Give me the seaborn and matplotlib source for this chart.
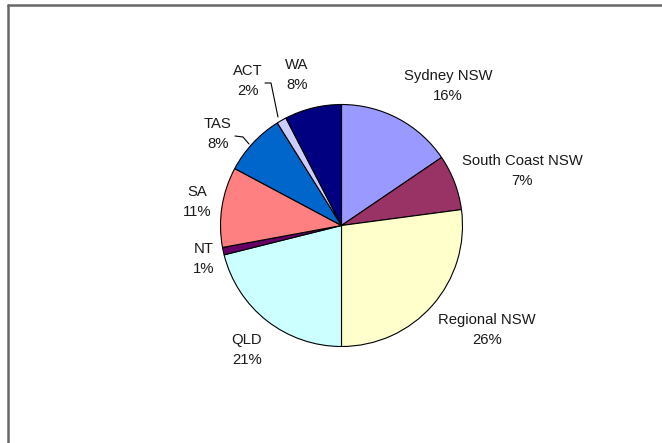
import matplotlib
matplotlib.use("Agg")
import matplotlib.pyplot as plt
from matplotlib.lines import Line2D
import seaborn as sns

# %% DATA (clockwise from 12 o'clock)

regions = ['Sydney NSW', 'South Coast NSW', 'Regional NSW', 'QLD', 'NT',
           'SA', 'TAS', 'ACT', 'WA']
shares = [15.5, 7.4, 27.1, 21.1, 1.0, 10.7, 8.3, 1.3, 7.6]
pct_labels = ['16%', '7%', '26%', '21%', '1%', '11%', '8%', '2%', '8%']
colours = ['#9999FF', '#993366', '#FFFFCC', '#CCFFFF', '#660066',
           '#FF8080', '#0066CC', '#CCCCFF', '#000080']

# %% LAYOUT (pixel coords, y from top)

W, H = 662, 443
centre = (341.5, 225.5)
radius = 121
label_pos = [(448, 86), (522, 171), (487, 330), (247, 350), (204, 259),
             (197, 202), (218, 134), (248, 81), (297, 75)]

sns.set_style("white")
plt.rcParams['font.family'] = ['Liberation Sans', 'DejaVu Sans']

fig = plt.figure(figsize=(W / 100, H / 100), dpi=100)
ax = fig.add_axes([0, 0, 1, 1])

ax.pie(
    shares,
    colors=colours,
    startangle=90,
    counterclock=False,
    center=(centre[0], H - centre[1]),
    radius=radius,
    wedgeprops=dict(edgecolor='black', linewidth=0.8),
    frame=True,
)
ax.set_xlim(0, W)
ax.set_ylim(0, H)
ax.set_aspect('auto')
ax.axis('off')

for name, pct, (x, y) in zip(regions, pct_labels, label_pos):
    ax.text(x, H - y, f'{name}\n{pct}', ha='center', va='center',
            fontsize=10.7, linespacing=1.5, color='#1a1a1a')

# leader lines for the small slices
ax.plot([265, 271, 278], [H - 83, H - 83, H - 117], color='black', lw=0.8)
ax.plot([235, 243, 249], [H - 136, H - 137, H - 144], color='black', lw=0.8)

# chart area border (left and top edges visible)
fig.add_artist(Line2D([8 / W, 8 / W], [0, 1 - 5 / H], color='#666666', lw=1.8))
fig.add_artist(Line2D([8 / W, 1], [1 - 5 / H, 1 - 5 / H], color='#666666', lw=1.8))

fig.savefig('out.png', dpi=100, facecolor='white')
